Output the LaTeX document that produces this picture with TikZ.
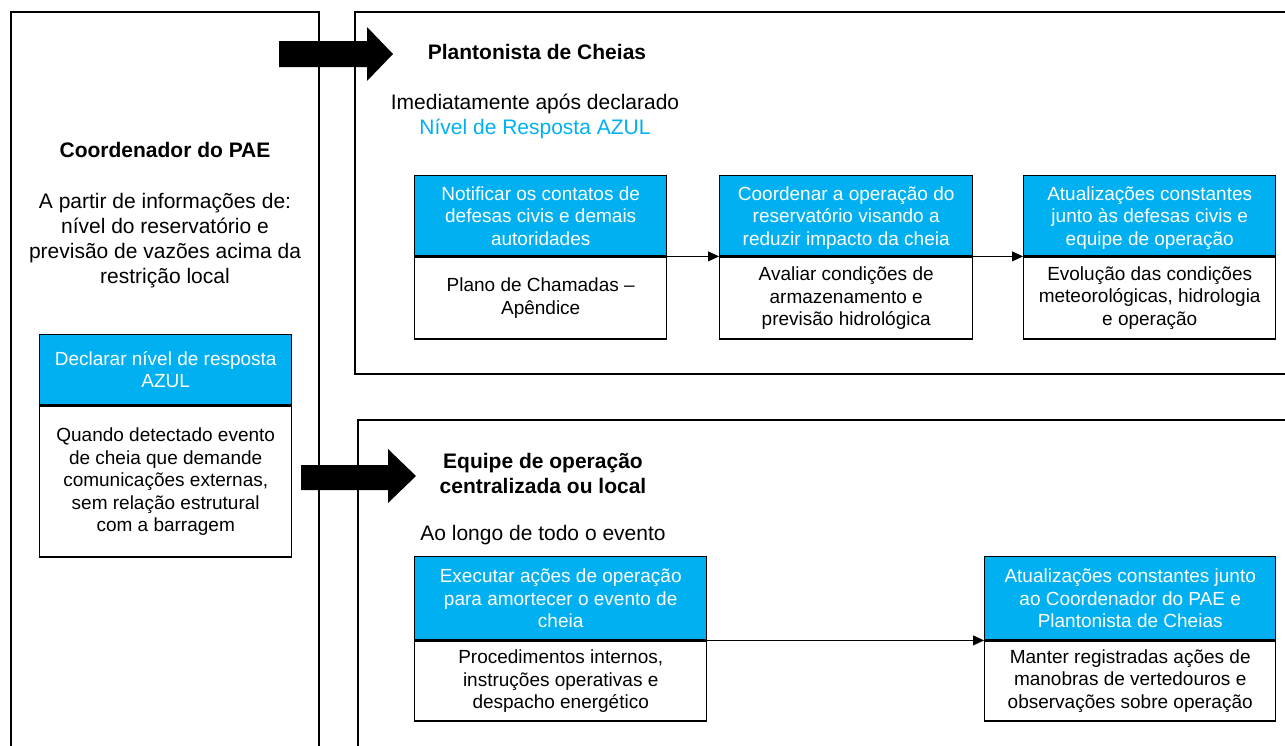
\documentclass[tikz,border=0pt]{standalone}
\usepackage{fontspec}
\setmainfont{Liberation Sans}
\usetikzlibrary{arrows.meta}
\definecolor{azul}{HTML}{00B0F0}
\begin{document}
\begin{tikzpicture}[x=1pt,y=-1pt,
 every node/.style={inner sep=0pt},
 main/.style={font=\fontsize{21}{25}\selectfont, align=center},
 ttl/.style={font=\bfseries\fontsize{21}{25}\selectfont, align=center},
 hdr/.style={draw, line width=1.4pt, fill=azul, text=white, align=center, font=\fontsize{19}{22.5}\selectfont, anchor=north west, text depth=0pt},
 bdy/.style={draw, line width=1.4pt, fill=white, align=center, font=\fontsize{19}{22.5}\selectfont, anchor=north west},
 frame/.style={line width=1.2pt},
 conn/.style={line width=0.8pt, -{Triangle[length=11pt,width=10pt]}}]
\useasboundingbox (0,0) rectangle (1285,745);
\clip (0,0) rectangle (1285,745);
% frames
\draw[frame] (11,760) -- (11,12) -- (319,12) -- (319,760);
\draw[frame] (1300,12) -- (355,12) -- (355,374) -- (1300,374);
\draw[frame] (1300,420) -- (358,420) -- (358,760);
% block arrows
\fill (279,41) -- (367,41) -- (367,27) -- (393,54) -- (367,81) -- (367,67) -- (279,67) -- cycle;
\fill (301,465) -- (388,465) -- (388,449) -- (416,476) -- (388,503) -- (388,490) -- (301,490) -- cycle;
% left column
\node[ttl] (coord) at (165,150) {Coordenador do PAE};
\node[main] (info) at (165,240.5) {A partir de informações de:\\nível do reservatório e\\previsão de vazões acima da\\restrição local};
\node[hdr, minimum width=252pt, minimum height=70pt] (hd) at (39,334) {Declarar nível de resposta\\AZUL};
\node[bdy, minimum width=252pt, minimum height=151pt] (bd) at (hd.south west) {Quando detectado evento\\de cheia que demande\\comunicações externas,\\sem relação estrutural\\com a barragem};
% top right
\node[ttl] (plant) at (537,52) {Plantonista de Cheias};
\node[main] (imed) at (535,116) {Imediatamente após declarado\\\textcolor{azul}{Nível de Resposta AZUL}};
\node[hdr, minimum width=252pt, minimum height=80pt] (h1) at (414,175) {Notificar os contatos de\\defesas civis e demais\\autoridades};
\node[bdy, minimum width=252pt, minimum height=82pt] (b1) at (h1.south west) {Plano de Chamadas –\\Apêndice};
\node[hdr, minimum width=253pt, minimum height=80pt] (h2) at (719,175) {Coordenar a operação do\\reservatório visando a\\reduzir impacto da cheia};
\node[bdy, minimum width=253pt, minimum height=82pt] (b2) at (h2.south west) {Avaliar condições de\\armazenamento e\\previsão hidrológica};
\node[hdr, minimum width=252pt, minimum height=80pt] (h3) at (1023,175) {Atualizações constantes\\junto às defesas civis e\\equipe de operação};
\node[bdy, minimum width=252pt, minimum height=82pt] (b3) at (h3.south west) {Evolução das condições\\meteorológicas, hidrologia\\e operação};
\draw[conn] (h1.south east) -- (h2.south west);
\draw[conn] (h2.south east) -- (h3.south west);
% bottom right
\node[ttl] (equipe) at (543,473.5) {Equipe de operação\\centralizada ou local};
\node[main] (ao) at (543,535) {Ao longo de todo o evento};
\node[hdr, minimum width=292pt, minimum height=83pt] (h4) at (414,556) {Executar ações de operação\\para amortecer o evento de\\cheia};
\node[bdy, minimum width=292pt, minimum height=80pt] (b4) at (h4.south west) {Procedimentos internos,\\instruções operativas e\\despacho energético};
\node[hdr, minimum width=291pt, minimum height=83pt] (h5) at (984,556) {Atualizações constantes junto\\ao Coordenador do PAE e\\Plantonista de Cheias};
\node[bdy, minimum width=291pt, minimum height=80pt] (b5) at (h5.south west) {Manter registradas ações de\\manobras de vertedouros e\\observações sobre operação};
\draw[conn] (h4.south east) -- (h5.south west);
\end{tikzpicture}
\end{document}
